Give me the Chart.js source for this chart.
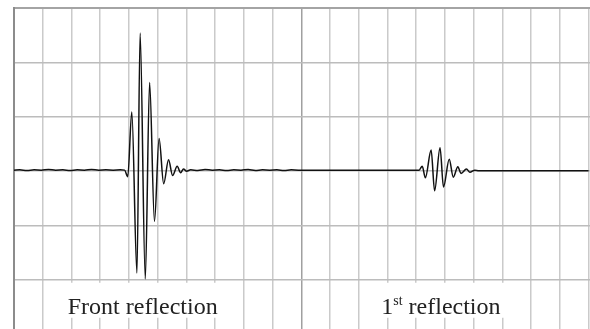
<!DOCTYPE html>
<html>
<head>
<meta charset="utf-8">
<script src="https://cdn.jsdelivr.net/npm/chart.js@4.4.1/dist/chart.umd.min.js"></script>
<style>
  html, body { margin: 0; padding: 0; background: #fff; }
  #wrap { width: 590px; height: 329px; position: relative; }
</style>
</head>
<body>
<div id="wrap"><canvas id="scope"></canvas></div>
<script>
// trace, x in grid divisions, y in grid divisions
const frontX = [0.00, 0.20, 0.45, 0.70, 0.95, 1.20, 1.45, 1.70, 1.95, 2.20, 2.45, 2.70, 2.95, 3.20, 3.45, 3.70,
  3.85, 3.96, 4.10, 4.28, 4.39, 4.57, 4.72, 4.89, 5.05, 5.21, 5.38, 5.52, 5.68, 5.80, 5.90, 6.01,
  6.15, 6.40, 6.65, 6.90, 7.15, 7.40, 7.65, 7.90, 8.15, 8.40, 8.65, 8.90, 9.15, 9.40, 9.65, 9.90];
const frontY = [0.02, 0.025, 0.015, 0.025, 0.02, 0.03, 0.02, 0.025, 0.015, 0.025, 0.02, 0.03, 0.02, 0.025, 0.02, 0.025,
  0.02, -0.10, 1.09, -1.87, 2.54, -1.98, 1.63, -0.92, 0.60, -0.23, 0.21, -0.08, 0.09, -0.03, 0.04, 0.00,
  0.025, 0.015, 0.03, 0.02, 0.025, 0.015, 0.025, 0.02, 0.03, 0.015, 0.025, 0.02, 0.025, 0.015, 0.025, 0.02];

const firstX = [10.00, 14.10, 14.21, 14.32, 14.52, 14.64, 14.83, 14.95, 15.15, 15.29, 15.45, 15.56,
  15.75, 15.87, 16.04, 16.18, 20.00];
const firstY = [0.02, 0.02, 0.09, -0.12, 0.39, -0.36, 0.43, -0.29, 0.22, -0.11, 0.08, -0.04,
  0.04, -0.02, 0.02, 0.01, 0.01];

// label positions (x in divisions)
const labelX = [4.48, 14.86];
const labelParts = [
  [["Front reflection", false]],
  [["1", false], ["st", true], [" reflection", false]]
];

const trace = [];
frontX.forEach((x, i) => trace.push({ x, y: frontY[i] }));
firstX.forEach((x, i) => trace.push({ x, y: firstY[i] }));

const labelPlugin = {
  id: "labels",
  afterDraw(chart) {
    const ctx = chart.ctx;
    const xs = chart.scales.x;
    const ys = chart.scales.y;
    const base = ys.getPixelForValue(-2.62);
    ctx.save();
    ctx.textBaseline = "alphabetic";
    labelParts.forEach((parts, k) => {
      let w = 0;
      parts.forEach(([t, sup]) => {
        ctx.font = (sup ? "14px" : "24px") + " 'Liberation Serif', 'Times New Roman', serif";
        w += ctx.measureText(t).width;
      });
      const cx = xs.getPixelForValue(labelX[k]);
      let x = cx - w / 2;
      ctx.fillStyle = "#fff";
      ctx.fillRect(x - 8, base - 31, w + 16, 35);
      ctx.fillStyle = "#222";
      parts.forEach(([t, sup]) => {
        ctx.font = (sup ? "14px" : "24px") + " 'Liberation Serif', 'Times New Roman', serif";
        ctx.fillText(t, x, sup ? base - 9 : base);
        x += ctx.measureText(t).width;
      });
    });
    ctx.restore();
  }
};

new Chart(document.getElementById("scope").getContext("2d"), {
  type: "scatter",
  data: {
    datasets: [{
      data: trace,
      showLine: true,
      borderColor: "#111",
      borderWidth: 1.5,
      pointRadius: 0,
      cubicInterpolationMode: "monotone"
    }]
  },
  options: {
    responsive: true,
    maintainAspectRatio: false,
    animation: false,
    layout: { padding: { left: 14, top: 8, right: 0, bottom: 0 } },
    plugins: { legend: { display: false }, tooltip: { enabled: false } },
    scales: {
      x: {
        type: "linear",
        min: 0,
        max: 20.05,
        ticks: { display: false, stepSize: 1, includeBounds: false },
        grid: {
          drawTicks: false,
          lineWidth: 1.5,
          color: c => c.tick && c.tick.value === 10 ? "#a0a0a0" : "#cacaca"
        },
        border: { display: false }
      },
      y: {
        min: -2.9,
        max: 3,
        ticks: { display: false, stepSize: 1, includeBounds: false },
        grid: {
          drawTicks: false,
          lineWidth: c => c.tick && c.tick.value === 3 ? 2 : 1.5,
          color: c => c.tick && c.tick.value === 3 ? "#a4a4a4" : "#bcbcbc"
        },
        border: { display: true, color: "#8c8c8c", width: 2 }
      }
    }
  },
  plugins: [labelPlugin]
});
</script>
</body>
</html>
